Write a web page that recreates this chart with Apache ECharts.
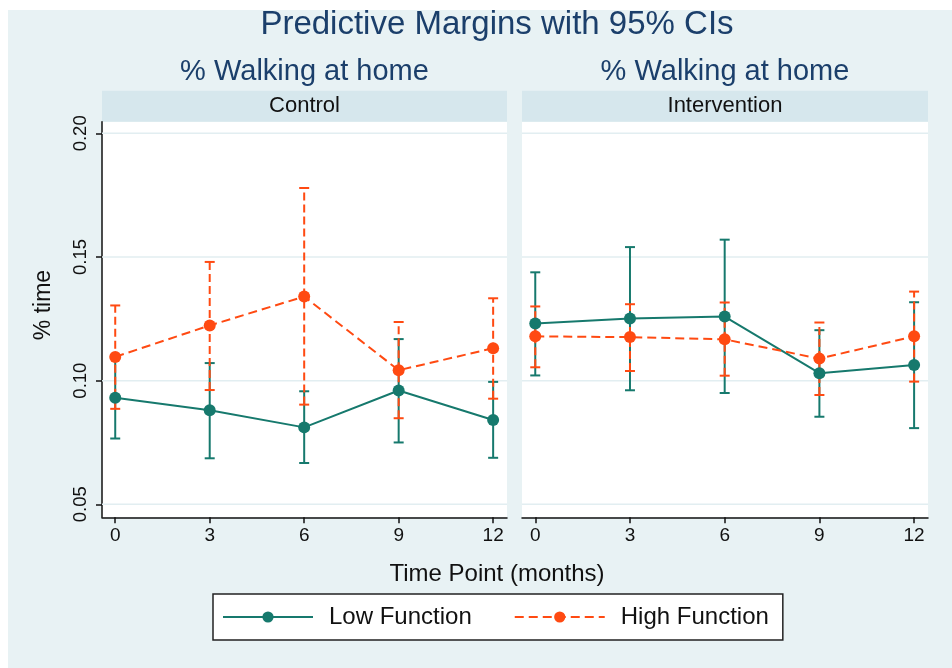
<!DOCTYPE html>
<html>
<head>
<meta charset="utf-8">
<script src="https://cdn.jsdelivr.net/npm/echarts@6/dist/echarts.min.js"></script>
<style>
html,body{margin:0;padding:0;background:#fff;}
#chart{width:952px;height:668px;}
</style>
</head>
<body>
<div id="chart"></div>
<script>
// ---- data ----
const months = [0, 3, 6, 9, 12];
const yTicks = [0.05, 0.10, 0.15, 0.20];
const panels = ['Control', 'Intervention'];
const seriesNames = ['Low Function', 'High Function'];

const ctrlLow    = [0.0931, 0.0880, 0.0811, 0.0960, 0.0841];
const ctrlLowLo  = [0.0766, 0.0686, 0.0667, 0.0750, 0.0688];
const ctrlLowHi  = [0.1096, 0.1071, 0.0957, 0.1168, 0.0995];
const ctrlHigh   = [0.1096, 0.1223, 0.1340, 0.1042, 0.1131];
const ctrlHighLo = [0.0886, 0.0962, 0.0903, 0.0848, 0.0927];
const ctrlHighHi = [0.1304, 0.1480, 0.1779, 0.1237, 0.1333];

const intLow     = [0.1231, 0.1251, 0.1259, 0.1030, 0.1063];
const intLowLo   = [0.1021, 0.0961, 0.0950, 0.0854, 0.0808];
const intLowHi   = [0.1438, 0.1540, 0.1570, 0.1204, 0.1317];
const intHigh    = [0.1179, 0.1176, 0.1167, 0.1089, 0.1179];
const intHighLo  = [0.1054, 0.1039, 0.1020, 0.0942, 0.0996];
const intHighHi  = [0.1300, 0.1309, 0.1316, 0.1235, 0.1360];

// ---- styles ----
const FONT = '"Liberation Sans", Arial, sans-serif';
const TEAL = '#16796d';
const ORANGE = '#ff4a12';
const BG = '#e8f2f4';
const STRIP = '#d6e7ed';
const GRIDC = '#e2eef1';

const panelData = [
  {low: ctrlLow, lowLo: ctrlLowLo, lowHi: ctrlLowHi, high: ctrlHigh, highLo: ctrlHighLo, highHi: ctrlHighHi},
  {low: intLow, lowLo: intLowLo, lowHi: intLowHi, high: intHigh, highLo: intHighLo, highHi: intHighHi}
];

const gridBoxes = [
  {left: 102, top: 121.7, width: 405, height: 395.6},
  {left: 522, top: 121.7, width: 406, height: 395.6}
];

function ciRender(color, dashed) {
  return function (params, api) {
    const x = api.value(0);
    const lo = api.coord([x, api.value(1)]);
    const hi = api.coord([x, api.value(2)]);
    const w = 5;
    return {
      type: 'group',
      children: [
        {type: 'line', shape: {x1: lo[0], y1: lo[1], x2: hi[0], y2: hi[1]},
         style: {stroke: color, lineWidth: 2, lineDash: dashed ? [8, 4] : null}},
        {type: 'line', shape: {x1: lo[0] - w, y1: lo[1], x2: lo[0] + w, y2: lo[1]},
         style: {stroke: color, lineWidth: 2}},
        {type: 'line', shape: {x1: hi[0] - w, y1: hi[1], x2: hi[0] + w, y2: hi[1]},
         style: {stroke: color, lineWidth: 2}}
      ]
    };
  };
}

function gridRender(params, api) {
  const cs = params.coordSys;
  const y = api.coord([0, api.value(1)])[1];
  return {type: 'line', shape: {x1: cs.x, y1: y, x2: cs.x + cs.width, y2: y},
          style: {stroke: GRIDC, lineWidth: 1.5}};
}

const grids = gridBoxes.map(g => Object.assign({show: true, backgroundColor: '#ffffff', borderWidth: 0, containLabel: false, outerBoundsMode: 'none'}, g));

const xAxes = [0, 1].map(i => ({
  gridIndex: i, type: 'value', min: -0.42, max: 12.44,
  axisLine: {show: true, onZero: false, lineStyle: {color: '#111', width: 1.5}},
  axisTick: {show: true, length: 6, customValues: months, lineStyle: {color: '#111', width: 1.5}},
  axisLabel: {customValues: months, fontSize: 19, color: '#111', fontFamily: FONT, margin: 9},
  splitLine: {show: false}
}));

const yAxes = [0, 1].map(i => ({
  gridIndex: i, type: 'value', min: 0.04474, max: 0.2047,
  axisLine: {show: i === 0, onZero: false, lineStyle: {color: '#111', width: 1.5}},
  axisTick: {show: i === 0, length: 6, customValues: yTicks, lineStyle: {color: '#111', width: 1.5}},
  axisLabel: {show: i === 0, customValues: yTicks, rotate: 90, fontSize: 18.5, color: '#111', fontFamily: FONT, margin: 12,
              formatter: v => Number(v).toFixed(2)},
  splitLine: {show: false}
}));

const series = [];
panelData.forEach((p, i) => {
  series.push({
    type: 'custom', xAxisIndex: i, yAxisIndex: i, silent: true, z: 1,
    data: yTicks.map(v => [0, v]), encode: {x: 0, y: 1}, renderItem: gridRender
  });
  series.push({
    type: 'custom', name: 'lowCI', xAxisIndex: i, yAxisIndex: i, z: 2, silent: true,
    data: months.map((m, k) => [m, p.lowLo[k], p.lowHi[k]]), encode: {x: 0, y: [1, 2]},
    renderItem: ciRender(TEAL, false)
  });
  series.push({
    type: 'custom', name: 'highCI', xAxisIndex: i, yAxisIndex: i, z: 3, silent: true,
    data: months.map((m, k) => [m, p.highLo[k], p.highHi[k]]), encode: {x: 0, y: [1, 2]},
    renderItem: ciRender(ORANGE, true)
  });
  series.push({
    type: 'line', name: seriesNames[0], xAxisIndex: i, yAxisIndex: i, z: 4,
    data: months.map((m, k) => [m, p.low[k]]),
    symbol: 'circle', symbolSize: 12, itemStyle: {color: TEAL},
    lineStyle: {color: TEAL, width: 2}, animation: false
  });
  series.push({
    type: 'line', name: seriesNames[1], xAxisIndex: i, yAxisIndex: i, z: 5,
    data: months.map((m, k) => [m, p.high[k]]),
    symbol: 'circle', symbolSize: 12, itemStyle: {color: ORANGE},
    lineStyle: {color: ORANGE, width: 2, type: [9, 5]}, animation: false
  });
});

const graphics = [
  {type: 'rect', shape: {x: 8, y: 10, width: 944, height: 658}, style: {fill: BG}, z: -10, silent: true},
  {type: 'rect', shape: {x: 102, y: 90.7, width: 405, height: 31}, style: {fill: STRIP}, silent: true},
  {type: 'rect', shape: {x: 522, y: 90.7, width: 406, height: 31}, style: {fill: STRIP}, silent: true},
  {type: 'text', x: 497, y: 25, style: {text: 'Predictive Margins with 95% CIs', fill: '#1b3f6b', font: '33px ' + FONT, align: 'center', verticalAlign: 'middle'}},
  {type: 'text', x: 304.5, y: 72, style: {text: '% Walking at home', fill: '#1b3f6b', font: '29px ' + FONT, align: 'center', verticalAlign: 'middle'}},
  {type: 'text', x: 725, y: 72, style: {text: '% Walking at home', fill: '#1b3f6b', font: '29px ' + FONT, align: 'center', verticalAlign: 'middle'}},
  {type: 'text', x: 304.5, y: 105.5, style: {text: panels[0], fill: '#111', font: '22px ' + FONT, align: 'center', verticalAlign: 'middle'}},
  {type: 'text', x: 725, y: 105.5, style: {text: panels[1], fill: '#111', font: '22px ' + FONT, align: 'center', verticalAlign: 'middle'}},
  {type: 'text', x: 497, y: 574, style: {text: 'Time Point (months)', fill: '#111', font: '24px ' + FONT, align: 'center', verticalAlign: 'middle'}},
  {type: 'text', x: 44, y: 305, rotation: Math.PI / 2, style: {text: '% time', fill: '#111', font: '23px ' + FONT, align: 'center', verticalAlign: 'middle'}}
];

const chart = echarts.init(document.getElementById('chart'), null, {renderer: 'canvas'});
chart.setOption({
  animation: false,
  backgroundColor: '#ffffff',
  grid: grids,
  xAxis: xAxes,
  yAxis: yAxes,
  series: series,
  graphic: graphics,
  legend: {
    data: seriesNames, left: 213, top: 594, orient: 'horizontal',
    backgroundColor: '#ffffff', borderColor: '#222', borderWidth: 1.5,
    padding: [11, 14, 11, 9], itemWidth: 90, itemHeight: 14, itemGap: 42,
    textStyle: {fontSize: 24, color: '#111', fontFamily: FONT, padding: [0, 0, 0, 11]}
  }
});
</script>
</body>
</html>
